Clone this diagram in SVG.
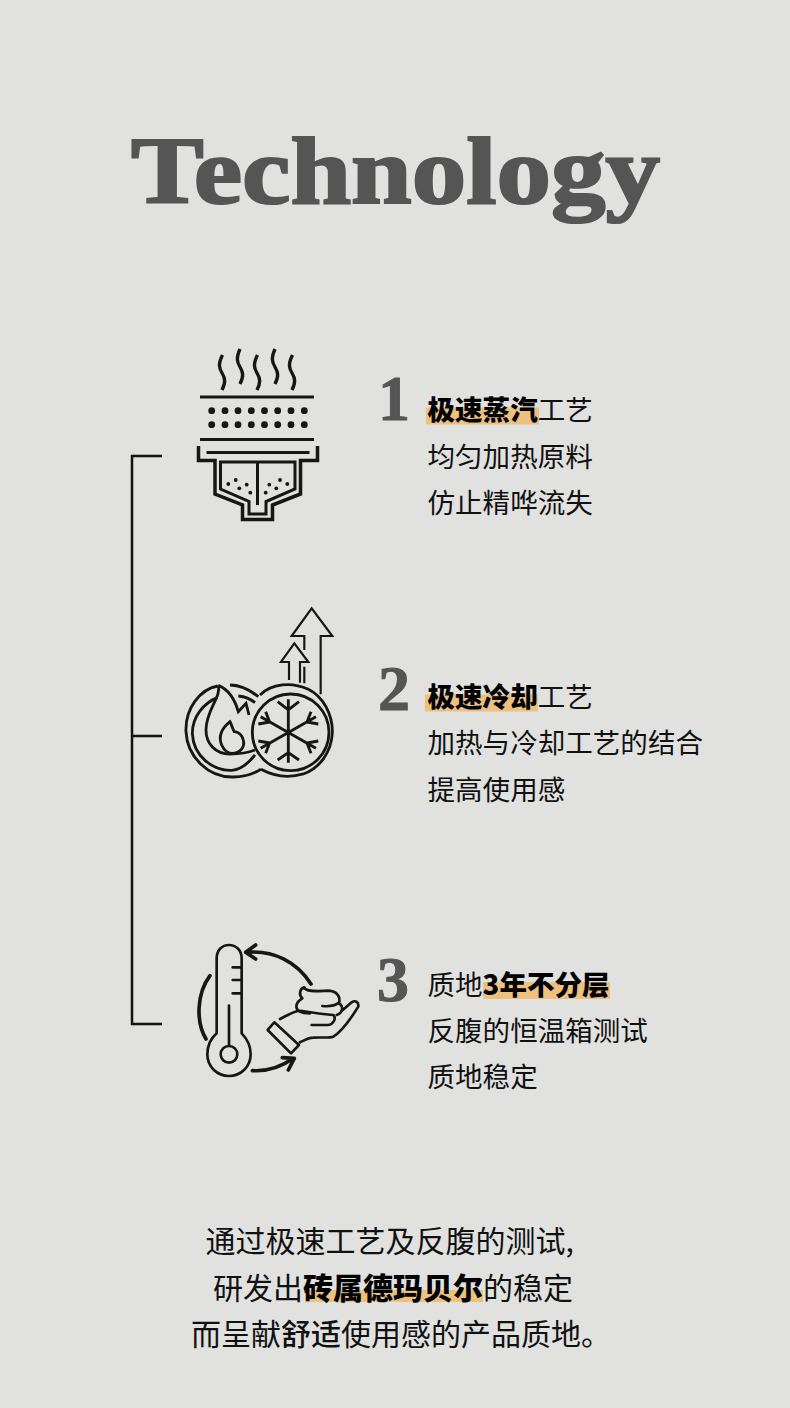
<svg xmlns="http://www.w3.org/2000/svg" width="790" height="1408" viewBox="0 0 790 1408">
<style>
text{font-family:"Noto Sans CJK SC","Noto Sans",sans-serif;fill:#111}
.t{font-size:27.55px;font-weight:400}
.f{font-size:30px;font-weight:400}
.b{font-weight:900;fill:#000}
.m{font-weight:500}
.h{fill:#eec07e}
.n{font-family:"Liberation Serif",serif;font-weight:700;fill:#555;stroke:#555;stroke-width:1px;font-size:64px}
.title{font-family:"Liberation Serif",serif;font-weight:700;fill:#555;stroke:#555;stroke-width:2.2px;font-size:96px}
.ic{fill:none;stroke:#161616;stroke-width:3}
.dot{fill:#161616}
</style>
<rect width="790" height="1408" fill="#e1e1df"/>
<g id="title"><text class="title" x="131" y="203" textLength="529" lengthAdjust="spacingAndGlyphs">Technology</text></g>

<g id="connectors" fill="none" stroke="#111" stroke-width="2.5">
<path d="M162 456H132V1024H162M132 736H162"/>
</g>

<g id="node-1">
<g class="ic">
<g stroke-width="3.400">
<path d="M222.500 355C218 364 219 368 222 373C225 378 226 382 222 390"/>
<path d="M240 349C236 358 237 362 240 367C243 372 244 376 240 384"/>
<path d="M257.500 355C253 364 254 368 257 373C260 378 261 382 257 390"/>
<path d="M275 349C271 358 272 362 275 367C278 372 279 376 275 384"/>
<path d="M292.500 355C288 364 289 368 292 373C295 378 296 382 292 390"/>
</g>
<path d="M200 397H314M200 439.500H314M206.500 452.500H309.500"/>
<path d="M198.500 446V460.500H215V494L242.500 505V519.500H272.500V505L300.500 494V460.500H317.500V446" stroke-width="3.500"/>
<path d="M220.500 462V489L249 501.500V514H266V501.500L295 489V462ZM257.500 462V505"/>
</g>
<g class="dot">
<circle cx="211.700" cy="410.700" r="3.400"/><circle cx="225" cy="410.700" r="3.400"/><circle cx="238" cy="410.700" r="3.400"/><circle cx="251.300" cy="410.700" r="3.400"/><circle cx="264.500" cy="410.700" r="3.400"/><circle cx="277.700" cy="410.700" r="3.400"/><circle cx="291" cy="410.700" r="3.400"/><circle cx="304.300" cy="410.700" r="3.400"/>
<circle cx="211.700" cy="424.700" r="3.400"/><circle cx="225" cy="424.700" r="3.400"/><circle cx="238" cy="424.700" r="3.400"/><circle cx="251.300" cy="424.700" r="3.400"/><circle cx="264.500" cy="424.700" r="3.400"/><circle cx="277.700" cy="424.700" r="3.400"/><circle cx="291" cy="424.700" r="3.400"/><circle cx="304.300" cy="424.700" r="3.400"/>
<circle cx="228.300" cy="484" r="1.900"/><circle cx="235.700" cy="480" r="1.900"/><circle cx="239.300" cy="488.300" r="1.900"/><circle cx="246.700" cy="484.700" r="1.900"/><circle cx="250.300" cy="492.700" r="1.900"/><circle cx="265.700" cy="492.700" r="1.900"/><circle cx="269.300" cy="484.700" r="1.900"/><circle cx="276.300" cy="488.300" r="1.900"/><circle cx="280" cy="480" r="1.900"/><circle cx="287.300" cy="484" r="1.900"/>
</g>
<text class="n" x="378" y="420">1</text>
<rect class="h" x="426" y="407.500" width="113" height="17"/>
<text class="t" x="427.500" y="420"><tspan class="b">极速蒸汽</tspan>工艺</text>
<text class="t" x="427.500" y="467">均匀加热原料</text>
<text class="t" x="427.500" y="513">仿止精哗流失</text>
</g>

<g id="node-2">
<g transform="translate(175 600) scale(.3333)" fill="none" stroke="#161616" stroke-width="8.500">
<circle cx="347" cy="397" r="115"/>
<path d="M255 285C290 250 350 245 400 268C445 290 474 345 472 400C469 455 435 505 385 522C340 535 295 528 258 508"/>
<path d="M128 258C75 268 30 325 33 395C36 470 100 533 175 531C205 530 235 522 258 508"/>
<path d="M128 292C85 310 52 350 52 400C55 470 115 513 170 511C195 510 220 490 240 465"/>
<path d="M165 255C195 255 225 270 250 290M190 288C210 290 228 298 240 308"/>
<path d="M130 256C165 270 180 300 190 335L213 310L222 345"/>
<path d="M130 256C140 290 93 330 93 390C93 430 120 462 165 462C190 462 215 460 240 450"/>
<path d="M165 365C140 385 130 410 140 435C148 452 160 460 170 460C198 460 210 440 205 420C202 405 190 395 178 395C172 385 170 375 165 365Z"/>
<path d="M340 298V488M257 350L423 445M257 445L423 350M340 330L308 305M340 330L372 305M340 458L308 480M340 458L372 480M284 366L250 372M284 366L272 335M396 366L430 372M396 366L408 335M284 429L250 423M284 429L272 460M396 429L430 423M396 429L408 460"/>
<path d="M388 150V108H350L410 25L472 108H437V283" stroke-width="6.500"/>
<path d="M342 240V186H318L358 130L400 186H375V248M388 200V250" stroke-width="6.500"/>
</g>
<text class="n" x="378" y="710">2</text>
<rect class="h" x="425" y="694.500" width="113" height="17"/>
<text class="t" x="427.500" y="707"><tspan class="b">极速冷却</tspan>工艺</text>
<text class="t" x="427.500" y="753">加热与冷却工艺的结合</text>
<text class="t" x="427.500" y="800">提高使用感</text>
</g>

<g id="node-3">
<g transform="translate(185 935) scale(.3333)" fill="none" stroke="#161616" stroke-width="8" stroke-linecap="round" stroke-linejoin="round">
<path d="M95 295V70C95 45 112 30 132 30C152 30 170 45 170 70V295C185 310 197 330 197 358C197 395 168 423 132 423C96 423 67 395 67 358C67 330 78 310 95 295Z"/>
<circle cx="132" cy="358" r="25"/>
<path d="M132 212V332M143 97H170M143 135H170M143 175H170"/>
<path d="M75 122C35 175 32 260 63 312M378 147C335 80 265 45 185 52M212 30L182 52L212 72M202 407C250 410 290 395 325 370M292 368L328 370L310 405" stroke-width="11"/>
<path d="M268 262L248 285L318 355L342 330Z"/>
<path d="M285 252C300 245 320 232 338 228C350 225 375 235 445 240C455 250 445 268 430 270H380M345 322C360 315 370 308 385 308C410 306 430 310 445 305C470 290 495 255 520 215C522 200 510 195 500 202L470 228"/>
<path d="M375 235C350 235 330 228 335 208C338 198 345 195 352 190C340 178 345 160 358 157C362 172 400 168 430 167C455 168 468 185 462 205C478 215 472 235 455 240M462 203C450 212 430 215 412 213"/>
</g>
<text class="n" x="377" y="1001">3</text>
<rect class="h" x="483" y="982" width="127" height="17"/>
<text class="t" x="427.500" y="995">质地<tspan class="b">3年不分层</tspan></text>
<text class="t" x="427.500" y="1041">反腹的恒温箱测试</text>
<text class="t" x="427.500" y="1087">质地稳定</text>
</g>

<g id="summary">
<rect class="h" x="305" y="1290" width="178" height="12"/>
<text class="f" x="205.500" y="1252">通过极速工艺及反腹的测试,</text>
<text class="f" x="213" y="1299">研发出<tspan class="b">砖属德玛贝尔</tspan>的稳定</text>
<text class="f" x="191" y="1345">而呈献<tspan class="m">舒适</tspan>使用感的产品质地。</text>
</g>
</svg>
